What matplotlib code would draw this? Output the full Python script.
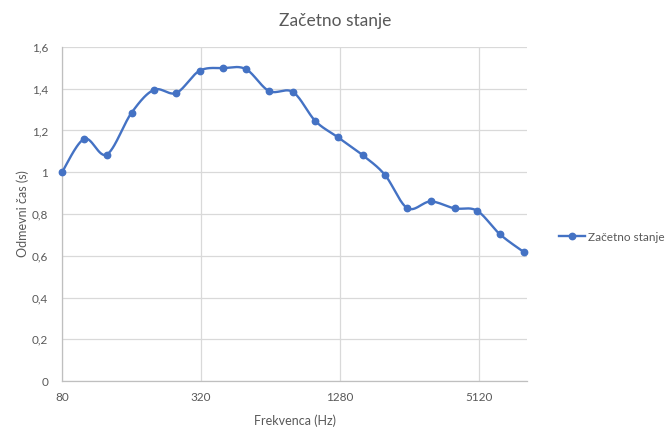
import matplotlib
matplotlib.use('Agg')
import matplotlib.pyplot as plt
import numpy as np
from matplotlib.lines import Line2D
from matplotlib.ticker import FixedLocator, FuncFormatter, NullLocator

# Data (third-octave bands)
freqs = [80, 100, 125, 160, 200, 250, 315, 400, 500, 630, 800, 1000,
         1250, 1600, 2000, 2500, 3150, 4000, 5000, 6300, 8000]
reverb = [1.00, 1.16, 1.085, 1.285, 1.395, 1.38, 1.486, 1.499, 1.494, 1.389, 1.384, 1.245,
          1.168, 1.082, 0.987, 0.828, 0.86, 0.827, 0.816, 0.702, 0.617]
xticks = [80, 320, 1280, 5120]
series_name = 'Začetno stanje'

BLUE = '#4472C4'
GREY_TXT = '#595959'
GRID = '#D9D9D9'

plt.rcParams['font.family'] = ['Lato', 'DejaVu Sans']


def smooth(xs, ys, sx=70.0, sy=208.0, n=30):
    # Catmull-Rom style bezier in screen-like space (log2 x)
    px = np.log2(np.asarray(xs, float)) * sx
    py = np.asarray(ys, float) * sy
    pts = np.column_stack([px, py])
    out = []
    for i in range(len(pts) - 1):
        p0 = pts[i - 1] if i > 0 else pts[i]
        p1 = pts[i]
        p2 = pts[i + 1]
        p3 = pts[i + 2] if i + 2 < len(pts) else pts[i + 1]
        c1 = p1 + (p2 - p0) / 6.0
        c2 = p2 - (p3 - p1) / 6.0
        t = np.linspace(0, 1, n)[:, None]
        seg = ((1 - t) ** 3) * p1 + 3 * ((1 - t) ** 2) * t * c1 + 3 * (1 - t) * t ** 2 * c2 + t ** 3 * p2
        out.append(seg if i == 0 else seg[1:])
    out = np.vstack(out)
    return 2 ** (out[:, 0] / sx), out[:, 1] / sy


fig = plt.figure(figsize=(6.68, 4.4), dpi=100)
ax = fig.add_axes([62 / 668, 1 - 381 / 440, (527 - 62) / 668, (381 - 47) / 440])

ax.set_xscale('log', base=2)
ax.set_xlim(80, 80 * 2 ** (465 / 69.55))
ax.set_ylim(0, 1.6)

sx, sy = smooth(freqs, reverb)
ax.plot(sx, sy, color=BLUE, lw=1.7, solid_capstyle='round', zorder=3, clip_on=False)
ax.plot(freqs, reverb, 'o', color=BLUE, ms=4.6, zorder=4, clip_on=False)

ax.xaxis.set_major_locator(FixedLocator(xticks))
ax.xaxis.set_minor_locator(NullLocator())
ax.xaxis.set_major_formatter(FuncFormatter(lambda v, p: '%d' % round(v)))
ax.set_yticks(np.arange(0, 1.61, 0.2))
ax.yaxis.set_major_formatter(FuncFormatter(lambda v, p: ('%g' % round(v, 1)).replace('.', ',')))

ax.grid(True, color=GRID, lw=0.9, zorder=0)
for s in ['top', 'right']:
    ax.spines[s].set_visible(False)
for s in ['left', 'bottom']:
    ax.spines[s].set_color('#BFBFBF')
    ax.spines[s].set_linewidth(0.9)
ax.tick_params(length=0, labelsize=8.5, colors=GREY_TXT, pad=8)
ax.tick_params(axis='y', pad=10)

ax.set_xlabel('Frekvenca (Hz)', fontsize=9, color=GREY_TXT, labelpad=8)
ax.set_ylabel('Odmevni čas (s)', fontsize=9, color=GREY_TXT, labelpad=2)
fig.text(335 / 668, 1 - 21 / 440, 'Začetno stanje', ha='center', va='center', fontsize=12.5, color=GREY_TXT)

handle = Line2D([], [], color=BLUE, lw=1.7, marker='o', ms=4.6)
fig.legend([handle], [series_name], loc='center left', bbox_to_anchor=(548 / 668, 1 - 237 / 440),
           frameon=False, fontsize=8.5, labelcolor=GREY_TXT, handlelength=2.2, handletextpad=0.3)

fig.savefig('out.png', dpi=100, facecolor='white')
